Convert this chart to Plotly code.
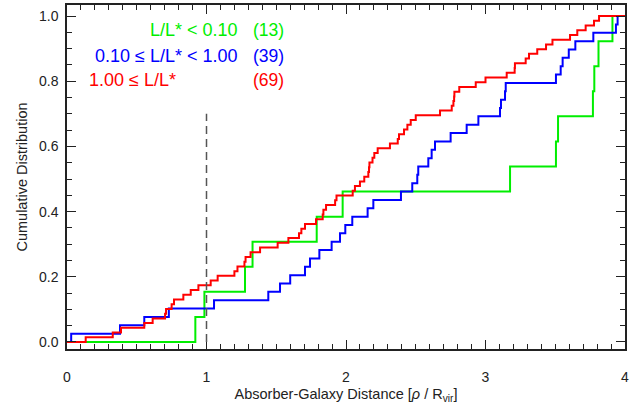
import plotly.graph_objects as go

# Sorted absorber-galaxy distances (rho / R_vir)
green_vals = [0.92, 0.985, 1.276, 1.33, 1.79, 1.976, 3.176, 3.505, 3.52, 3.77, 3.78, 3.81, 3.91]
blue_vals = [0.03, 0.38, 0.554, 0.73, 1.054, 1.443, 1.527, 1.6, 1.706, 1.742, 1.809, 1.897,
             1.957, 1.995, 2.045, 2.155, 2.196, 2.394, 2.475, 2.511, 2.518, 2.59, 2.614, 2.638,
             2.75, 2.865, 2.949, 3.104, 3.111, 3.14, 3.145, 3.505, 3.539, 3.553, 3.597, 3.644,
             3.773, 3.935, 3.947]
red_vals = [0.134, 0.328, 0.387, 0.554, 0.614, 0.703, 0.71, 0.75, 0.767, 0.834, 0.887, 0.942,
            1.03, 1.08, 1.2, 1.222, 1.272, 1.28, 1.316, 1.384, 1.51, 1.587, 1.663, 1.68, 1.706,
            1.785, 1.833, 1.838, 1.857, 1.922, 1.932, 2.048, 2.064, 2.1, 2.131, 2.16, 2.165,
            2.168, 2.19, 2.203, 2.227, 2.315, 2.371, 2.38, 2.416, 2.44, 2.464, 2.5, 2.674,
            2.758, 2.77, 2.775, 2.777, 2.812, 2.93, 3.0, 3.152, 3.209, 3.211, 3.288, 3.312,
            3.371, 3.434, 3.48, 3.606, 3.658, 3.718, 3.778, 3.814]

series_labels = ["L/L* < 0.10", "0.10 \u2264 L/L* < 1.00", "1.00 \u2264 L/L*"]
series_counts = ["(13)", "(39)", "(69)"]
series_colors = ["#00ee00", "#0000ff", "#ff0000"]
x_ticks = [0, 1, 2, 3, 4]
y_ticks = [0.0, 0.2, 0.4, 0.6, 0.8, 1.0]
x_max = 4.0

FONT = "Liberation Sans, Arial, Helvetica, sans-serif"


def cdf(vals):
    n = len(vals)
    xs = [0.0] + list(vals) + [x_max]
    ys = [0.0] + [(i + 1) / n for i in range(n)] + [1.0]
    return xs, ys


fig = go.Figure()
for vals, col in zip([green_vals, blue_vals, red_vals], series_colors):
    xs, ys = cdf(vals)
    fig.add_trace(go.Scatter(x=xs, y=ys, mode="lines", line=dict(color=col, width=2, shape="hv"),
                             showlegend=False, hoverinfo="skip"))

# dashed reference line at rho/Rvir = 1
fig.add_shape(type="line", xref="x", yref="y", x0=1, x1=1, y0=0, y1=0.70,
              line=dict(color="#555555", width=1.5, dash="8px,5px"))

# text legend
label_pos = [(1.24, 0.957, "right"), (1.24, 0.877, "right"), (0.143, 0.804, "left")]
for (lx, ly, anc), lab, cnt, col in zip(label_pos, series_labels, series_counts, series_colors):
    fig.add_annotation(x=lx, y=ly, xref="x", yref="y", text=lab, showarrow=False,
                       xanchor=anc, yanchor="middle", font=dict(size=18, color=col, family=FONT))
    fig.add_annotation(x=1.319, y=ly, xref="x", yref="y", text=cnt, showarrow=False,
                       xanchor="left", yanchor="middle", font=dict(size=17.5, color=col, family=FONT))

axis_common = dict(showgrid=False, zeroline=False, showline=True, linecolor="#222222", linewidth=1.5,
                   mirror="ticks", ticks="inside", ticklen=9, tickwidth=1.2, tickcolor="#222222",
                   tickfont=dict(size=14, color="#222222", family=FONT))

fig.update_layout(
    width=635, height=404,
    margin=dict(l=67, r=10, t=5, b=55, autoexpand=False),
    paper_bgcolor="white", plot_bgcolor="white",
    font=dict(family=FONT, color="#222222"),
    xaxis=dict(range=[0, x_max], tickvals=x_ticks, ticktext=[str(t) for t in x_ticks],
               minor=dict(dtick=0.1, ticks="inside", ticklen=5, tickwidth=1, tickcolor="#222222"),
               ticklabelstandoff=14,
               title=dict(text="Absorber-Galaxy Distance [<i>\u03c1</i> / R<sub>vir</sub>]",
                          font=dict(size=14.5, color="#222222"), standoff=6),
               **axis_common),
    yaxis=dict(range=[-0.0215, 1.034], tickvals=y_ticks, ticktext=["%.1f" % t for t in y_ticks],
               minor=dict(dtick=0.05, ticks="inside", ticklen=5, tickwidth=1, tickcolor="#222222"),
               ticklabelstandoff=4,
               title=dict(text="Cumulative Distribution", font=dict(size=14.5, color="#222222"), standoff=8),
               **axis_common),
)

fig.write_html("out.html", config={"displayModeBar": False},
               post_script="document.body.style.margin='0';document.body.style.overflow='hidden';")
